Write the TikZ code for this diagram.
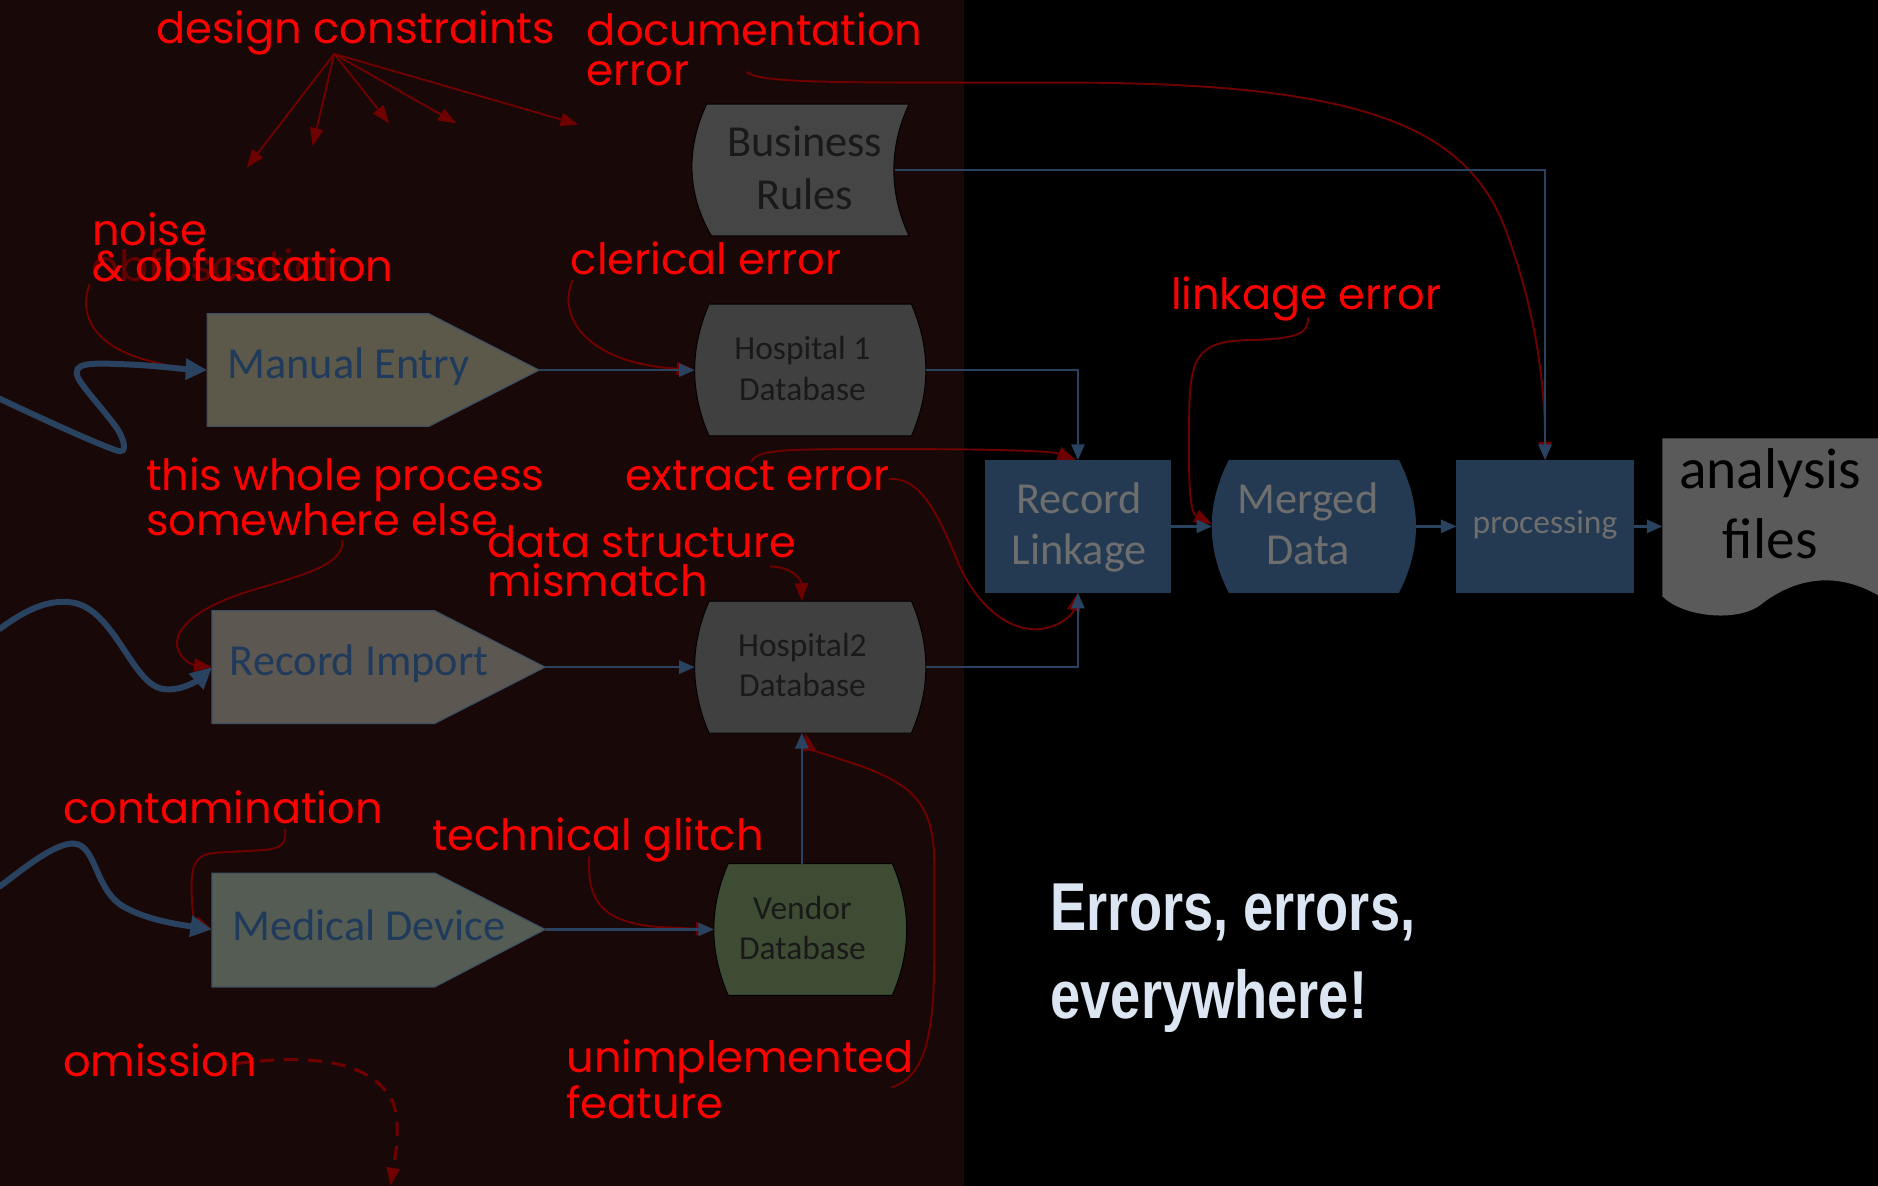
\documentclass[tikz,border=0pt]{standalone}
\usepackage{fontspec}
\setmainfont{Carlito}
\newfontfamily\notefont{Poppins}
\newfontfamily\headfont[FakeStretch=0.8]{Liberation Sans}
\usetikzlibrary{arrows.meta}

\definecolor{leftbg}{RGB}{25,8,8}
\definecolor{flowblue}{RGB}{40,66,96}
\definecolor{errdark}{RGB}{110,0,0}
\definecolor{errred}{RGB}{255,0,0}
\definecolor{ghostred}{RGB}{100,0,0}
\definecolor{pentblue}{RGB}{31,58,90}
\definecolor{pentedge}{RGB}{62,80,98}
\definecolor{manualfill}{RGB}{92,89,75}
\definecolor{importfill}{RGB}{93,87,82}
\definecolor{devicefill}{RGB}{84,92,84}
\definecolor{dbfill}{RGB}{64,64,64}
\definecolor{rulefill}{RGB}{69,69,69}
\definecolor{vendorfill}{RGB}{62,76,52}
\definecolor{dbtextc}{RGB}{25,25,25}
\definecolor{navy}{RGB}{36,58,82}
\definecolor{navytext}{RGB}{110,110,110}
\definecolor{docfill}{RGB}{90,90,90}
\definecolor{headtext}{RGB}{220,230,242}

\begin{document}
\begin{tikzpicture}[x=1pt,y=-1pt,
  flow/.style={draw=flowblue, line width=2pt, -{Triangle[length=13pt,width=11pt]}},
  wave/.style={draw=flowblue, line width=5pt, line cap=round, -{Triangle[length=18pt,width=17pt]}},
  errline/.style={draw=errdark, line width=1.6pt, -{Triangle[length=15pt,width=11pt]}},
  note/.style={font=\notefont\fontsize{36}{33}\selectfont, text=errred, inner sep=0pt, anchor=base west, align=left},
  slot/.style={inner sep=0pt, outer sep=0pt, draw=none},
  boxtext/.style={inner sep=0pt, anchor=base, align=center},
  bigtext/.style={boxtext, font=\fontsize{37}{43.1}\selectfont},
  smalltext/.style={boxtext, font=\fontsize{28}{33.6}\selectfont},
  navyfill/.style={fill=navy},
]
\useasboundingbox (0,0) rectangle (1568,990);
% two background panels
\fill[black] (0,0) rectangle (1568,990);
\fill[leftbg] (0,0) rectangle (805,990);

% ---------- shapes ----------
% source pentagons
\filldraw[fill=manualfill, draw=pentedge, line width=1pt]
  (173,262) -- (358,262) -- (450,309) -- (358,356) -- (173,356) -- cycle;
\filldraw[fill=importfill, draw=pentedge, line width=1pt]
  (177,510) -- (363,510) -- (455,557) -- (363,604) -- (177,604) -- cycle;
\filldraw[fill=devicefill, draw=pentedge, line width=1pt]
  (177,729) -- (363,729) -- (455,776) -- (363,824) -- (177,824) -- cycle;

% stored data (business rules)
\filldraw[fill=rulefill, draw=black, line width=0.8pt]
  (590,87) -- (759,87) .. controls (742,123) and (742,161) .. (759,197)
  -- (594,197) .. controls (573,161) and (573,123) .. (590,87) -- cycle;

% databases
\filldraw[fill=dbfill, draw=black, line width=0.8pt]
  (592,254) -- (761,254) .. controls (777,291) and (777,327) .. (761,364)
  -- (592,364) .. controls (576,327) and (576,291) .. (592,254) -- cycle;
\filldraw[fill=dbfill, draw=black, line width=0.8pt]
  (592,502) -- (761,502) .. controls (777,539) and (777,575) .. (761,612)
  -- (592,612) .. controls (576,575) and (576,539) .. (592,502) -- cycle;
\filldraw[fill=vendorfill, draw=black, line width=0.8pt]
  (608,721) -- (745,721) .. controls (761,758) and (761,794) .. (745,831)
  -- (608,831) .. controls (592,794) and (592,758) .. (608,721) -- cycle;

% linkage, merged data, processing
\fill[navyfill] (822,384) rectangle (978,495);
\fill[navyfill] (1026,384) -- (1168,384) .. controls (1187,421) and (1187,458) .. (1168,495)
  -- (1026,495) .. controls (1007,458) and (1007,421) .. (1026,384) -- cycle;
\fill[navyfill] (1216,384) rectangle (1364,495);

% analysis files document
\fill[docfill] (1388,366) -- (1568,366) -- (1568,497)
  .. controls (1530,475) and (1495,485) .. (1470,505)
  .. controls (1450,520) and (1405,515) .. (1388,498) -- cycle;

% ---------- anchor nodes ----------
\node[slot, minimum width=277pt, minimum height=94pt] (me) at (311.5,309) {};
\node[slot, minimum width=278pt, minimum height=94pt] (ri) at (316,557) {};
\node[slot, minimum width=278pt, minimum height=95pt] (md) at (316,776) {};
\node[slot, minimum width=180pt, minimum height=110pt] (br) at (669,142) {};
\node[slot, minimum width=193pt, minimum height=110pt] (h1) at (676.5,309) {};
\node[slot, minimum width=193pt, minimum height=110pt] (h2) at (676.5,557) {};
\node[slot, minimum width=161pt, minimum height=110pt] (vd) at (676.5,776) {};
\node[slot, minimum width=156pt, minimum height=111pt] (rl) at (900,439.5) {};
\node[slot, minimum width=170pt, minimum height=111pt] (mg) at (1097,439.5) {};
\node[slot, minimum width=148pt, minimum height=111pt] (pr) at (1290,439.5) {};
\node[slot, minimum width=180pt, minimum height=147pt] (af) at (1478,439.5) {};

% free ends
\coordinate (in1) at (0,333);
\coordinate (in2) at (0,525);
\coordinate (in3) at (0,740);
\coordinate (dc) at (279,45);
\coordinate (dc1) at (206,140);
\coordinate (dc2) at (261,122);
\coordinate (dc3) at (325,103);
\coordinate (dc4) at (381,103);
\coordinate (dc5) at (483,104);
\coordinate (docs) at (623,60);
\coordinate (noi) at (75,237);
\coordinate (cle) at (478,234);
\coordinate (lnk) at (1092,265);
\coordinate (who) at (286,451);
\coordinate (ext1) at (627,386);
\coordinate (ext2) at (742,400);
\coordinate (dsm) at (643,473);
\coordinate (uni) at (744,908);
\coordinate (tec) at (492,715);
\coordinate (con) at (238,692);
\coordinate (omi) at (197,888);
\coordinate (omiend) at (326,990);

% ---------- error annotations ----------
\foreach \t in {dc1,dc2,dc3,dc4,dc5} \draw[errline] (dc) -- (\t);
\draw[errline] (docs) .. controls (635,70) and (700,69) .. (900,69)
  .. controls (1150,70) and (1230,110) .. (1260,200)
  .. controls (1285,270) and (1290,330) .. (pr.north);
\draw[errline] (noi) .. controls (65,262) and (78,288) .. (120,300)
  .. controls (140,306) and (158,308) .. (me.west);
\draw[errline] (cle) .. controls (465,265) and (490,300) .. (555,307) -- (h1.west);
\draw[errline] (lnk) .. controls (1093,280) and (1080,283) .. (1040,284)
  .. controls (1000,285) and (994,300) .. (993,340)
  .. controls (992,400) and (993,428) .. ([yshift=2pt]mg.west);
\draw[errline] (who) .. controls (287,470) and (260,478) .. (220,490)
  .. controls (165,505) and (145,525) .. (148,540)
  .. controls (150,550) and (160,555) .. (ri.west);
\draw[errline] (ext1) .. controls (632,374) and (660,375) .. (760,375)
  .. controls (840,375) and (880,377) .. ([xshift=-2pt]rl.north);
\draw[errline] (ext2) .. controls (765,398) and (780,420) .. (800,470)
  .. controls (820,515) and (850,528) .. (870,525)
  .. controls (888,522) and (896,512) .. (rl.south);
\draw[errline] (dsm) .. controls (660,473) and (669,483) .. ([xshift=-7pt]h2.north);
\draw[errline] (uni) .. controls (770,900) and (780,870) .. (780,800) -- (780,720)
  .. controls (780,670) and (760,655) .. (720,640)
  .. controls (690,630) and (675,625) .. ([xshift=-4pt]h2.south);
\draw[errline] (tec) .. controls (490,750) and (500,770) .. (550,774) -- (vd.west);
\draw[errline] (con) .. controls (239,705) and (236,709) .. (215,710) -- (180,712)
  .. controls (165,713) and (160,720) .. (160,740)
  .. controls (160,760) and (162,770) .. (md.west);
\draw[errline, line width=2.6pt, dash pattern=on 12pt off 8pt]
  (omi) .. controls (260,880) and (310,885) .. (328,920)
  .. controls (335,940) and (330,965) .. (omiend);

% ---------- data flow ----------
\draw[wave] (in1) .. controls (40,352) and (80,370) .. (97,376)
  .. controls (108,380) and (103,366) .. (98,358)
  .. controls (85,340) and (70,325) .. (65,315)
  .. controls (60,303) and (75,303) .. (100,304)
  .. controls (130,305) and (150,308) .. (me.west);
\draw[wave] (in2) .. controls (20,510) and (40,500) .. (60,503)
  .. controls (95,508) and (110,570) .. (135,575)
  .. controls (150,578) and (165,568) .. (ri.west);
\draw[wave] (in3) .. controls (20,725) and (50,700) .. (65,705)
  .. controls (80,710) and (80,740) .. (100,755)
  .. controls (120,768) and (150,772) .. (md.west);

\draw[flow] (me.east) -- (h1.west);
\draw[flow] (ri.east) -- (h2.west);
\draw[flow] (md.east) -- (vd.west);
\draw[flow] ([xshift=-7pt]vd.north) -- ([xshift=-7pt]h2.south);
\draw[flow] (h1.east) -| (rl.north);
\draw[flow] (h2.east) -| (rl.south);
\draw[flow] ([xshift=-12pt]br.east) -| (pr.north);
\draw[flow] (rl.east) -- (mg.west);
\draw[flow] (mg.east) -- (pr.west);
\draw[flow] (pr.east) -- (af.west);

% ---------- box labels (base = last line) ----------
\node[bigtext, text=pentblue] (me-t) at (291,316) {Manual Entry};
\node[bigtext, text=pentblue] (ri-t) at (300,564) {Record Import};
\node[bigtext, text=pentblue] (md-t) at (308,785) {Medical Device};
\node[bigtext, text=dbtextc, font=\fontsize{37}{44.5}\selectfont] (br-t) at (672,175.3) {Business\\Rules};
\node[smalltext, text=dbtextc] (h1-t) at (670,334) {Hospital 1\\Database};
\node[smalltext, text=dbtextc] (h2-t) at (670,581.7) {Hospital2\\Database};
\node[smalltext, text=dbtextc] (vd-t) at (670,801.5) {Vendor\\Database};
\node[bigtext, text=navytext] (rl-t) at (901,471.7) {Record\\Linkage};
\node[bigtext, text=navytext] (mg-t) at (1092,471.7) {Merged\\Data};
\node[smalltext, text=navytext] (pr-t) at (1290,445.3) {processing};
\node[boxtext, text=black, font=\fontsize{48}{58.5}\selectfont] (af-t) at (1478,466.2) {analysis\\files};

% ---------- error labels (base = last line) ----------
\node[note, text=ghostred] (ghost) at (76.5,235.2) {obfuscation};
\node[note] (n-dc) at (130.4,36.2) {design constraints};
\node[note] (n-doc) at (489.8,71) {documentation\\error};
\node[note, font=\notefont\fontsize{36}{30.6}\selectfont] (n-noi) at (76.7,235.2) {noise\\\&\ obfuscation};
\node[note] (n-cle) at (476.5,229.6) {clerical error};
\node[note] (n-lnk) at (977.5,258.8) {linkage error};
\node[note] (n-who) at (121.7,446.7) {this whole process\\somewhere else};
\node[note] (n-ext) at (521.8,409.7) {extract error};
\node[note] (n-dsm) at (406.5,498.2) {data structure\\mismatch};
\node[note] (n-con) at (52.6,687.4) {contamination};
\node[note] (n-tec) at (360.5,710.3) {technical glitch};
\node[note] (n-omi) at (52.6,899) {omission};
\node[note] (n-uni) at (473,933.7) {unimplemented\\feature};

\node[inner sep=0pt, anchor=base west, align=left, text=headtext,
  font=\headfont\bfseries\fontsize{56.6}{73.8}\selectfont] (head) at (877,850.3)
  {Errors, errors,\\everywhere!};
\end{tikzpicture}
\end{document}
